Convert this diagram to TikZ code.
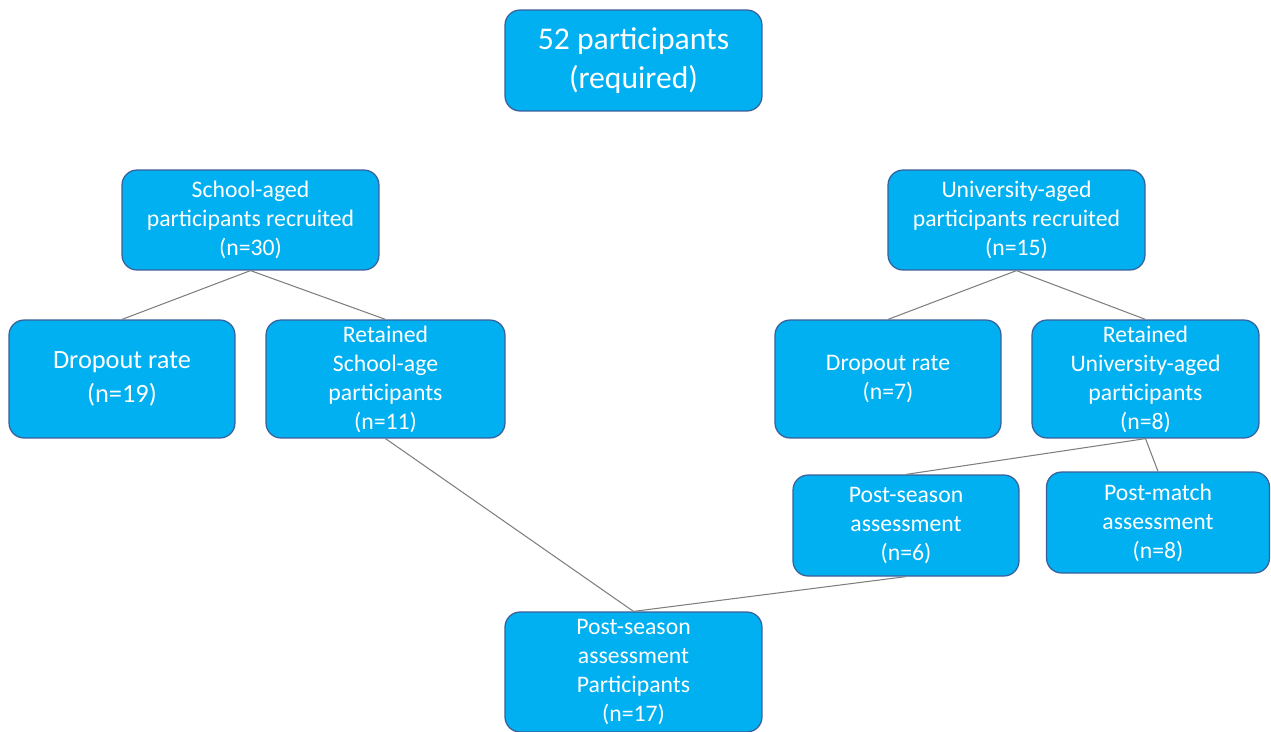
\documentclass[tikz,border=0pt]{standalone}
\usepackage{fontspec}
\setmainfont{Carlito}
\usepackage{xcolor}
\usepackage{tikz}
\usetikzlibrary{positioning}

\definecolor{boxfill}{HTML}{00B0F0}
\definecolor{boxline}{HTML}{3A5F9A}
\definecolor{linkgray}{HTML}{7F7F7F}

\begin{document}
\begin{tikzpicture}[
  x=0.02cm, y=-0.02cm,
  box/.style={draw=boxline, fill=boxfill, rounded corners=0.3cm, align=center,
    text=white, line width=0.7pt, inner sep=2pt,
    font=\fontsize{13.5}{16.5}\selectfont},
  link/.style={draw=linkgray, line width=0.6pt}
]
\useasboundingbox (0,0) rectangle (1271,731);

\node[box, minimum width=5.14cm, minimum height=2.02cm, font=\fontsize{18}{22}\selectfont] (req) at (633.5,60.5) {52 participants\\(required)};

\node[box, minimum width=5.14cm, minimum height=2cm] (school) at (250.5,220) {School-aged\\participants recruited\\(n=30)};
\node[box, minimum width=5.14cm, minimum height=2cm] (uni) at (1016.5,220) {University-aged\\participants recruited\\(n=15)};

\node[box, minimum width=4.52cm, minimum height=2.36cm, font=\fontsize{15}{19}\selectfont] (drop-s) at (122,379) {Dropout rate\\(n=19)};
\node[box, minimum width=4.78cm, minimum height=2.36cm] (ret-s) at (385.5,379) {Retained\\School-age\\participants\\(n=11)};
\node[box, minimum width=4.52cm, minimum height=2.36cm] (drop-u) at (888,379) {Dropout rate\\(n=7)};
\node[box, minimum width=4.54cm, minimum height=2.36cm] (ret-u) at (1145.5,379) {Retained\\University-aged\\participants\\(n=8)};

\node[box, minimum width=4.52cm, minimum height=2.02cm] (post-u) at (906,525.5) {Post-season\\assessment\\(n=6)};
\node[box, minimum width=4.46cm, minimum height=2.02cm] (match-u) at (1158,522.5) {Post-match\\assessment\\(n=8)};

\node[box, minimum width=5.14cm, minimum height=2.4cm] (post-all) at (633.5,672) {Post-season\\assessment\\Participants\\(n=17)};

\draw[link] (school.south) -- (drop-s.north);
\draw[link] (school.south) -- (ret-s.north);
\draw[link] (uni.south) -- (drop-u.north);
\draw[link] (uni.south) -- (ret-u.north);
\draw[link] (ret-u.south) -- (post-u.north);
\draw[link] (ret-u.south) -- (match-u.north);
\draw[link] (ret-s.south) -- (post-all.north);
\draw[link] (post-u.south) -- (post-all.north);
\end{tikzpicture}
\end{document}
